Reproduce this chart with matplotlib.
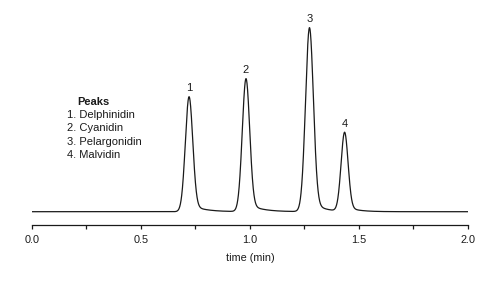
import numpy as np
import matplotlib
matplotlib.use("Agg")
import matplotlib.pyplot as plt

# ---- data ----
peak_labels = ["1", "2", "3", "4"]
peak_times = [0.721, 0.982, 1.273, 1.434]      # min
peak_heights = [115.0, 133.0, 184.0, 79.0]     # arbitrary units
peak_sigmas = [0.017, 0.017, 0.018, 0.016]     # min
tail_fracs = [0.07, 0.07, 0.07, 0.07]
tail_taus = [0.06, 0.06, 0.05, 0.05]           # min
legend_title = "Peaks"
legend_items = ["1. Delphinidin", "2. Cyanidin", "3. Pelargonidin", "4. Malvidin"]
x_ticks = [0.0, 0.25, 0.5, 0.75, 1.0, 1.25, 1.5, 1.75, 2.0]
x_ticklabels = ["0.0", "", "0.5", "", "1.0", "", "1.5", "", "2.0"]
x_label = "time (min)"

plt.rcParams['font.family'] = ['Liberation Sans', 'DejaVu Sans']

t = np.linspace(0.0, 2.0, 4001)
signal = np.zeros_like(t)
for t0, h, s, a, tau in zip(peak_times, peak_heights, peak_sigmas, tail_fracs, tail_taus):
    core = np.exp(-(t - t0) ** 2 / (2 * s ** 2))
    step = 1.0 / (1.0 + np.exp(-(t - t0) / (0.6 * s)))
    tail = a * step * np.exp(-np.clip(t - t0, 0, None) / tau)
    shape = core + tail
    signal += h * shape / shape.max()

fig = plt.figure(figsize=(5.0, 2.82), dpi=100)
ax = fig.add_axes([31.7 / 500, 57 / 282, 436.3 / 500, 215 / 282])
ax.plot(t, signal, color="#1a1a1a", lw=0.9)
ax.set_xlim(0.0, 2.0)
ax.set_ylim(-13.3, 201.7)

for lab, t0, h in zip(peak_labels, peak_times, peak_heights):
    ax.annotate(lab, (t0, h), xytext=(0, 3), textcoords="offset points",
                ha="center", va="bottom", fontsize=8, color="#1a1a1a")

for side in ("top", "right", "left"):
    ax.spines[side].set_visible(False)
ax.spines["bottom"].set_color("#1a1a1a")
ax.spines["bottom"].set_linewidth(0.9)
ax.set_yticks([])
ax.set_xticks(x_ticks)
ax.set_xticklabels(x_ticklabels)
ax.tick_params(axis="x", direction="out", length=3, width=0.9, color="#1a1a1a",
               labelsize=7.8, pad=4, labelcolor="#1a1a1a")
ax.set_xlabel(x_label, fontsize=7.8, labelpad=6, color="#1a1a1a")

fig.text(77.7 / 500, 1 - 102.3 / 282, legend_title, fontsize=8, fontweight="bold",
         ha="left", va="center", color="#1a1a1a")
for i, item in enumerate(legend_items):
    fig.text(67.3 / 500, 1 - (114.8 + 13.5 * i) / 282, item, fontsize=8,
             ha="left", va="center", color="#1a1a1a")

fig.savefig("out.png", dpi=100)
